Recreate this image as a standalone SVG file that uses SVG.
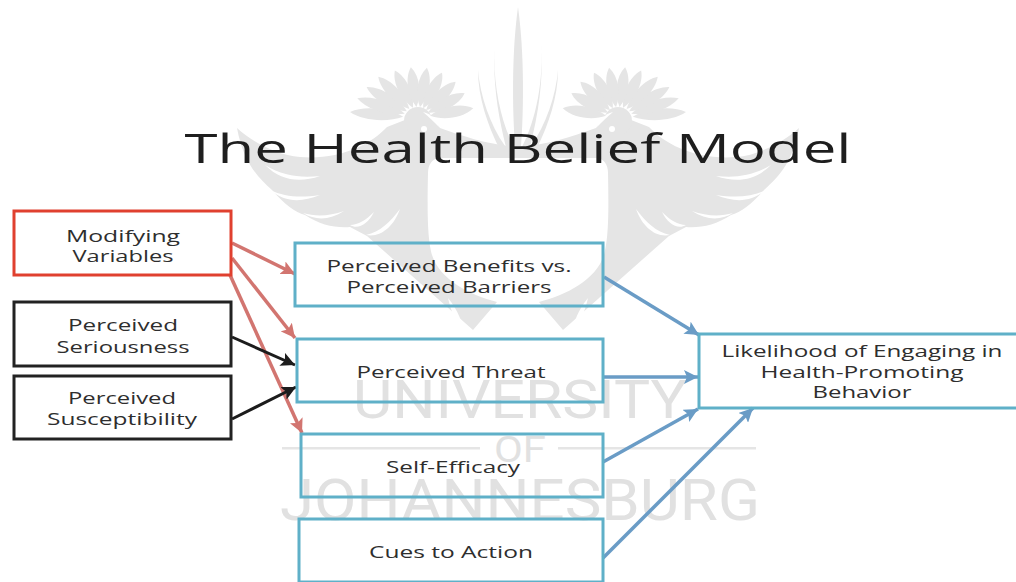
<svg xmlns="http://www.w3.org/2000/svg" width="1016" height="582" viewBox="0 0 1016 582">
<style>
text{font-family:"Open Sans","DejaVu Sans",sans-serif;text-anchor:middle;fill:#2e2e2e;font-size:17px}
.title{font-size:41px;fill:#1e1e1e}
.w{fill:#e5e5e5;stroke:none}
.s{fill:#fff;stroke:none}
.wt{fill:#e1e1e1;font-family:Roboto,"Liberation Sans",sans-serif;font-weight:400}
.b{fill:none;stroke-width:3}
.c{stroke:#5fb0c8}.k{stroke:#222}.r{stroke:#e0402f}
.lr{stroke:#d27570;stroke-width:3.5;fill:none;marker-end:url(#mr)}
.lk{stroke:#1c1c1c;stroke-width:3;fill:none;marker-end:url(#mk)}
.lb{stroke:#6a9cc6;stroke-width:3.5;fill:none;marker-end:url(#mb)}
</style>
<defs>
<marker id="mr" markerUnits="userSpaceOnUse" markerWidth="15" markerHeight="14" refX="14" refY="7" orient="auto"><path d="M0 0L14 7L0 14L3 7z" fill="#d27570"/></marker>
<marker id="mk" markerUnits="userSpaceOnUse" markerWidth="15" markerHeight="14" refX="14" refY="7" orient="auto"><path d="M0 0L14 7L0 14L3 7z" fill="#1c1c1c"/></marker>
<marker id="mb" markerUnits="userSpaceOnUse" markerWidth="15" markerHeight="14" refX="14" refY="7" orient="auto"><path d="M0 0L14 7L0 14L3 7z" fill="#6a9cc6"/></marker>
<path id="f" class="w" d="M0 -12C7 -24 8 -44 0 -55C-8 -44 -7 -24 0 -12Z"/>
<g id="half">
<path class="w" d="M518 147C490 145 465 137 440 128L428 112L410 118L387 127C370 145 340 160 300 157C275 155 250 140 237 128C243 160 255 175 272 190C285 205 295 212 305 215C320 225 335 228 350 227L367 236L473 330L497 302C470 295 440 280 432 255C428 240 427 220 428 173C428 165 432 158 440 158L518 158Z"/>
<circle class="w" cx="418" cy="121" r="14"/>
<circle class="s" cx="424" cy="129" r="3"/>
<path class="s" d="M423 112C432 114 437 120 439 127C434 122 429 117 423 112Z"/>
<path class="s" d="M265 165C283 176 300 178 320 176C300 183 281 181 265 165Z"/>
<path class="s" d="M270 190C285 197 300 198 320 195C300 203 285 202 270 190Z"/>
<path class="s" d="M303 213C316 217 330 216 344 211C330 220 316 221 303 213Z"/>
<path class="s" d="M350 225C358 225 366 220 374 212C368 224 358 230 350 225Z"/>
<path class="s" d="M366 235C380 232 390 222 400 209C394 226 381 238 366 235Z"/>
<path class="s" d="M448 298C458 310 462 322 465 334C456 322 451 312 448 298Z"/>
<use href="#f" transform="translate(418 118) rotate(-85) scale(1 1.24)"/>
<use href="#f" transform="translate(418 118) rotate(-72) scale(1 1.16)"/>
<use href="#f" transform="translate(418 118) rotate(-59) scale(1 1.09)"/>
<use href="#f" transform="translate(418 118) rotate(-44) scale(1 1.04)"/>
<use href="#f" transform="translate(418 118) rotate(-26) scale(1 .96)"/>
<use href="#f" transform="translate(418 118) rotate(-8) scale(1 .93)"/>
<use href="#f" transform="translate(418 118) rotate(10) scale(1 .93)"/>
<use href="#f" transform="translate(418 118) rotate(28) scale(1 .93)"/>
<use href="#f" transform="translate(418 118) rotate(46) scale(1 .95)"/>
<use href="#f" transform="translate(418 118) rotate(62) scale(1 .96)"/>
<use href="#f" transform="translate(418 118) rotate(80) scale(1 1.02)"/>
<path class="w" d="M495 42C492 80 500 120 514 147L506 147C498 115 492 80 495 42Z"/>
<path class="w" d="M478 70C480 95 490 125 505 146L498 146C488 125 478 98 478 70Z"/>
</g>
</defs>
<rect width="1016" height="582" fill="#fff"/>
<g id="watermark">
<use href="#half"/>
<use href="#half" transform="translate(1036 0) scale(-1 1)"/>
<path class="w" d="M518 7C524 50 524 105 521 146L515 146C512 105 512 50 518 7Z"/>
<text class="wt" x="520" y="418" textLength="334" lengthAdjust="spacingAndGlyphs" style="font-size:53px">UNIVERSITY</text>
<text class="wt" x="520" y="462" textLength="52" lengthAdjust="spacingAndGlyphs" style="font-size:37px">OF</text>
<rect class="w" x="282" y="447" width="198" height="2.5"/>
<rect class="w" x="558" y="447" width="198" height="2.5"/>
<text class="wt" x="520" y="520" textLength="480" lengthAdjust="spacingAndGlyphs" style="font-size:58px">JOHANNESBURG</text>
</g>
<text class="title" x="518" y="163" textLength="667" lengthAdjust="spacingAndGlyphs">The Health Belief Model</text>
<g id="connectors">
<path class="lr" d="M232 243L295 274"/>
<path class="lr" d="M232 258L295 338"/>
<path class="lr" d="M230 275L302 433"/>
<path class="lk" d="M232 337L295 365"/>
<path class="lk" d="M232 419L296 387"/>
<path class="lb" d="M604 277L699 335"/>
<path class="lb" d="M603 377L698 377"/>
<path class="lb" d="M603 462L698 409"/>
<path class="lb" d="M603 558L753 408"/>
</g>
<g id="modifying"><rect class="b r" x="14" y="211" width="217" height="64"/><text x="123" y="242" textLength="114" lengthAdjust="spacingAndGlyphs">Modifying</text><text x="123" y="262" textLength="101" lengthAdjust="spacingAndGlyphs">Variables</text></g>
<g id="seriousness"><rect class="b k" x="14" y="302" width="217" height="64"/><text x="123" y="331" textLength="110" lengthAdjust="spacingAndGlyphs">Perceived</text><text x="123" y="353" textLength="133" lengthAdjust="spacingAndGlyphs">Seriousness</text></g>
<g id="susceptibility"><rect class="b k" x="14" y="376" width="217" height="63"/><text x="122" y="404" textLength="108" lengthAdjust="spacingAndGlyphs">Perceived</text><text x="122" y="425" textLength="150" lengthAdjust="spacingAndGlyphs">Susceptibility</text></g>
<g id="benefits"><rect class="b c" x="295" y="243" width="308" height="63"/><text x="449" y="272" textLength="245" lengthAdjust="spacingAndGlyphs">Perceived Benefits vs.</text><text x="449" y="293" textLength="205" lengthAdjust="spacingAndGlyphs">Perceived Barriers</text></g>
<g id="threat"><rect class="b c" x="297" y="339" width="306" height="63"/><text x="451" y="378" textLength="189" lengthAdjust="spacingAndGlyphs">Perceived Threat</text></g>
<g id="efficacy"><rect class="b c" x="301" y="434" width="302" height="63"/><text x="453" y="473" textLength="134" lengthAdjust="spacingAndGlyphs">Self-Efficacy</text></g>
<g id="cues"><rect class="b c" x="299" y="519" width="304" height="63"/><text x="451" y="558" textLength="164" lengthAdjust="spacingAndGlyphs">Cues to Action</text></g>
<g id="likelihood"><rect class="b c" x="699" y="334" width="321" height="74"/><text x="862" y="357" textLength="281" lengthAdjust="spacingAndGlyphs">Likelihood of Engaging in</text><text x="862" y="378" textLength="203" lengthAdjust="spacingAndGlyphs">Health-Promoting</text><text x="862" y="398" textLength="99" lengthAdjust="spacingAndGlyphs">Behavior</text></g>
</svg>
